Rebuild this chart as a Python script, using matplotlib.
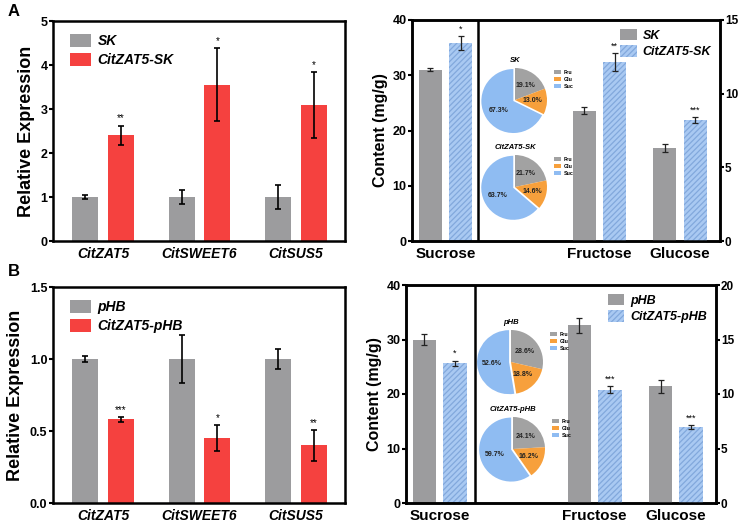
import matplotlib
matplotlib.use('Agg')
import matplotlib.pyplot as plt
import numpy as np

plt.rcParams['font.family'] = ['Liberation Sans', 'DejaVu Sans']
plt.rcParams['font.weight'] = 'bold'
plt.rcParams['hatch.linewidth'] = 0.9

W, H = 740, 526
GREY = '#9c9c9e'
RED = '#f5413f'
BLUE = '#a9c9f2'
HATCH = '#82a8dc'
PIE_COLORS = ['#a2a2a2', '#f7a03c', '#8fbcf2']

# ---- data ----
genes = ['CitZAT5', 'CitSWEET6', 'CitSUS5']
sugars = ['Sucrose', 'Fructose', 'Glucose']
pie_keys = ['Fru', 'Glu', 'Suc']

# A, qPCR
a_names = ['SK', 'CitZAT5-SK']
a_ctrl = [1.0, 1.0, 1.0]
a_ctrl_err = [0.05, 0.15, 0.27]
a_oe = [2.40, 3.55, 3.08]
a_oe_err = [0.22, 0.83, 0.75]
a_stars = ['**', '*', '*']

# B, qPCR
b_names = ['pHB', 'CitZAT5-pHB']
b_ctrl = [1.0, 1.0, 1.0]
b_ctrl_err = [0.02, 0.17, 0.07]
b_oe = [0.58, 0.45, 0.40]
b_oe_err = [0.015, 0.09, 0.105]
b_stars = ['***', '*', '**']

# A, sugar content (sucrose on left axis, fructose/glucose on right axis)
a_sug_ctrl = [31.0, 8.85, 6.3]
a_sug_ctrl_err = [0.3, 0.25, 0.25]
a_sug_oe = [35.8, 12.15, 8.2]
a_sug_oe_err = [1.3, 0.6, 0.2]
a_sug_stars = ['*', '**', '***']

# B, sugar content
b_sug_ctrl = [30.0, 16.3, 10.7]
b_sug_ctrl_err = [1.1, 0.7, 0.6]
b_sug_oe = [25.6, 10.4, 6.95]
b_sug_oe_err = [0.5, 0.3, 0.2]
b_sug_stars = ['*', '***', '***']

# pie percentages (Fru, Glu, Suc)
pie_sk = [19.1, 13.0, 67.3]
pie_zat5_sk = [21.7, 14.6, 63.7]
pie_phb = [28.6, 18.8, 52.6]
pie_zat5_phb = [24.1, 16.2, 59.7]


def box(x0, y0, x1, y1):
    return [x0 / W, 1 - y1 / H, (x1 - x0) / W, (y1 - y0) / H]


fig = plt.figure(figsize=(W / 100, H / 100), dpi=100)


def style_axes(ax):
    for s in ax.spines.values():
        s.set_linewidth(1.8)
    ax.tick_params(axis='y', length=3, width=1.5, labelsize=9, pad=1)
    ax.tick_params(axis='x', length=0, pad=4)


def expr_panel(rect, names, ctrl, ctrl_err, oe, oe_err, stars, ymax, step, fmt):
    ax = fig.add_axes(rect)
    x = np.arange(len(genes))
    ekw = dict(elinewidth=1.2, capthick=1.2, ecolor='black')
    ax.bar(x - 0.185, ctrl, 0.27, color=GREY, yerr=ctrl_err, capsize=2.5,
           error_kw=ekw, label=names[0])
    ax.bar(x + 0.185, oe, 0.27, color=RED, yerr=oe_err, capsize=2.5,
           error_kw=ekw, label=names[1])
    for xi, v, e, s in zip(x, oe, oe_err, stars):
        ax.text(xi + 0.185, v + e + ymax * 0.012, s, ha='center', va='bottom',
                fontsize=7, fontweight='normal')
    ax.set_xlim(-0.52, 2.51)
    ax.set_ylim(0, ymax)
    ticks = np.arange(0, ymax + step / 2, step)
    ax.set_yticks(ticks)
    ax.set_yticklabels([fmt.format(t) for t in ticks])
    ax.set_xticks(x)
    ax.set_xticklabels(genes, fontsize=10, style='italic', fontweight='bold')
    ax.set_ylabel('Relative Expression', fontsize=13, fontweight='bold', labelpad=4)
    style_axes(ax)
    ax.legend(loc='upper left', bbox_to_anchor=(0.015, 1.0), frameon=False,
              prop=dict(style='italic', weight='bold', size=10),
              handlelength=1.5, handleheight=1.1, labelspacing=0.35,
              handletextpad=0.5)
    return ax


def pie_inset(center, r, vals, title):
    cx, cy = center
    pad = r * 1.12
    pa = fig.add_axes(box(cx - pad, cy - pad, cx + pad, cy + pad))
    wedges, texts = pa.pie(vals, colors=PIE_COLORS, startangle=90,
                           counterclock=False, explode=[0, 0, 0.06],
                           labels=[f'{v:.1f}%' for v in vals], labeldistance=0.55,
                           wedgeprops=dict(linewidth=0))
    for t in texts:
        t.set_ha('center')
        t.set_va('center')
        t.set_fontsize(5)
        t.set_fontweight('bold')
        t.set_color('#222222')
    pa.set_xlim(-1.12, 1.12)
    pa.set_ylim(-1.12, 1.12)
    pa.set_aspect('equal')
    pa.set_title(title, fontsize=5.5, style='italic', fontweight='bold', pad=1)
    pa.legend(wedges, pie_keys, loc='upper left', bbox_to_anchor=(1.02, 0.95),
              frameon=False, fontsize=3.8, handlelength=1.3, handleheight=0.9,
              labelspacing=0.35, handletextpad=0.4, borderaxespad=0)


def sugar_panel(rect, names, ctrl, ctrl_err, oe, oe_err, stars, rmax, divider):
    ax = fig.add_axes(rect)
    ax2 = ax.twinx()
    pos = [1.13, 6.33, 9.05]
    off = 0.51
    wid = 0.78
    ekw = dict(elinewidth=0.9, capthick=0.9, ecolor='#222222')
    lmax = 40
    for i, p in enumerate(pos):
        a = ax if i == 0 else ax2
        top = lmax if i == 0 else rmax
        a.bar(p - off, ctrl[i], wid, color=GREY, yerr=ctrl_err[i], capsize=2.2,
              error_kw=ekw, label=names[0] if i == 1 else None)
        a.bar(p + off, oe[i], wid, color=BLUE, edgecolor=HATCH, linewidth=0,
              hatch='//////', yerr=oe_err[i], capsize=2.2, error_kw=ekw,
              label=names[1] if i == 1 else None)
        a.text(p + off, oe[i] + oe_err[i] + top * 0.012, stars[i], ha='center',
               va='bottom', fontsize=6.5, fontweight='normal')
    ax.set_xlim(0, 10.4)
    ax.set_ylim(0, lmax)
    ax.set_yticks(np.arange(0, lmax + 1, 10))
    ax2.set_ylim(0, rmax)
    ax2.set_yticks(np.arange(0, rmax + 1, 5))
    ax.axvline(divider, color='black', lw=1.8)
    ax.set_xticks(pos)
    ax.set_xticklabels(sugars, fontsize=11, fontweight='bold')
    ax.set_ylabel('Content (mg/g)', fontsize=11.5, fontweight='bold', labelpad=3)
    style_axes(ax)
    style_axes(ax2)
    ax2.tick_params(axis='y', pad=0.5, labelsize=8.5)
    ax2.legend(loc='upper right', bbox_to_anchor=(1.0, 1.0), frameon=False,
               prop=dict(style='italic', weight='bold', size=9),
               handlelength=1.3, handleheight=1.0, labelspacing=0.3,
               handletextpad=0.5, borderaxespad=0.3)
    return ax


# panel A
expr_panel(box(53, 21, 345, 241), a_names, a_ctrl, a_ctrl_err, a_oe, a_oe_err,
           a_stars, 5, 1, '{:.0f}')
sugar_panel(box(412, 20, 720, 241), a_names, a_sug_ctrl, a_sug_ctrl_err,
            a_sug_oe, a_sug_oe_err, a_sug_stars, 15, 2.23)
pie_inset((515, 100), 32, pie_sk, 'SK')
pie_inset((515, 187), 32, pie_zat5_sk, 'CitZAT5-SK')

# panel B
expr_panel(box(53, 287, 345, 503), b_names, b_ctrl, b_ctrl_err, b_oe, b_oe_err,
           b_stars, 1.5, 0.5, '{:.1f}')
sugar_panel(box(406, 285, 716, 503), b_names, b_sug_ctrl, b_sug_ctrl_err,
            b_sug_oe, b_sug_oe_err, b_sug_stars, 20, 2.3)
pie_inset((511, 362), 32, pie_phb, 'pHB')
pie_inset((513, 449), 32, pie_zat5_phb, 'CitZAT5-pHB')

fig.text(8 / W, 1 - 12 / H, 'A', fontsize=12, fontweight='bold', va='center')
fig.text(8 / W, 1 - 271 / H, 'B', fontsize=12, fontweight='bold', va='center')

fig.savefig('out.png', dpi=100)
